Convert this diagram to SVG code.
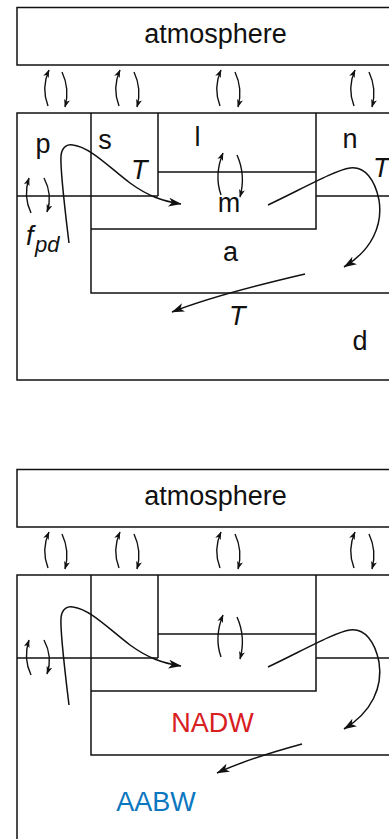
<svg xmlns="http://www.w3.org/2000/svg" width="389" height="839" viewBox="0 0 389 839">
<style>
.box{fill:none;stroke:#111;stroke-width:1.5}
.ln{fill:none;stroke:#111;stroke-width:1.5}
.ex{fill:none;stroke:#111;stroke-width:1.4;marker-end:url(#sm)}
.fl{fill:none;stroke:#111;stroke-width:1.5;marker-end:url(#bg)}
text{font-family:"Liberation Sans",Arial,sans-serif;font-size:27px;fill:#111}
.it{font-style:italic}
.nadw{fill:#d8201f}
.aabw{fill:#0b77c0}
</style>
<defs>
<marker id="sm" viewBox="0 0 8 6" refX="7.5" refY="3" markerWidth="8" markerHeight="6" markerUnits="userSpaceOnUse" orient="auto"><path d="M0,0 L8,3 L0,6 L2,3 z" fill="#111"/></marker>
<marker id="bg" viewBox="0 0 13 9" refX="12.5" refY="4.5" markerWidth="13" markerHeight="9" markerUnits="userSpaceOnUse" orient="auto"><path d="M0,0 L13,4.5 L0,9 L3.5,4.5 z" fill="#111"/></marker>
</defs>

<!-- TOP PANEL -->
<g id="top-atmosphere">
<rect class="box" x="17" y="7.5" width="400" height="57.5"/>
<text x="215.5" y="43" text-anchor="middle">atmosphere</text>
</g>
<g id="top-ocean">
<rect class="box" x="17" y="113" width="400" height="267"/>
</g>
<g id="top-p"><text x="43" y="153" text-anchor="middle">p</text>
<text class="it" x="26" y="245">f</text><text class="it" x="35" y="252" style="font-size:22px">pd</text></g>
<g id="top-s"><path class="ln" d="M91,113 V196 M17,196 H158 M158,113 V196"/><text x="105" y="149" text-anchor="middle">s</text><text class="it" x="131" y="179">T</text></g>
<g id="top-l"><path class="ln" d="M158,172 H316"/><text x="197.5" y="146" text-anchor="middle">l</text></g>
<g id="top-m"><path class="ln" d="M316,113 V229 H91"/><text x="229" y="212" text-anchor="middle">m</text></g>
<g id="top-n"><path class="ln" d="M316,196 H400"/><text x="350" y="148" text-anchor="middle">n</text><text class="it" x="373" y="177">T</text></g>
<g id="top-a"><path class="ln" d="M91,196 V293 H400"/><text x="230.5" y="261" text-anchor="middle">a</text></g>
<g id="top-d"><text x="360" y="350" text-anchor="middle">d</text><text class="it" x="229" y="325">T</text></g>

<g id="top-connectors">
<path class="ex" d="M48,106 Q41,88 49,70"/><path class="ex" d="M62,72 Q70,89 65,107"/>
<path class="ex" d="M119,106 Q112,88 120,70"/><path class="ex" d="M134,72 Q142,89 137,107"/>
<path class="ex" d="M220,106 Q213,88 221,70"/><path class="ex" d="M235,72 Q243,89 238,107"/>
<path class="ex" d="M354,106 Q347,88 355,70"/><path class="ex" d="M369,72 Q377,89 372,107"/>
<path class="ex" d="M221,195 Q214,175 223,153"/><path class="ex" d="M237,155 Q246,175 240,197"/>
<path class="ex" d="M31,213 Q23,196 29,178"/><path class="ex" d="M44,178 Q53,195 47,212"/>
<path class="fl" d="M69,243 C65,210 60,170 61,156 C62,146 68,144 73,145 C90,147 110,168 130,183 C148,196 162,201 181,204"/>
<path class="fl" d="M268,205 C300,190 335,170 350,168 C365,166 375,180 379,200 C383,225 372,250 344,267"/>
<path class="fl" d="M305,274 C275,281 215,295 172,312"/>
</g>

<!-- BOTTOM PANEL -->
<g id="bot-atmosphere" transform="translate(0,462)">
<rect class="box" x="17" y="7.5" width="400" height="57.5"/>
<text x="215.5" y="43" text-anchor="middle">atmosphere</text>
</g>
<g id="bot-ocean" transform="translate(0,462)">
<rect class="box" x="17" y="113" width="400" height="400"/>
</g>
<g id="bot-s" transform="translate(0,462)"><path class="ln" d="M91,113 V196 M17,196 H158 M158,113 V196"/></g>
<g id="bot-l" transform="translate(0,462)"><path class="ln" d="M158,172 H316"/></g>
<g id="bot-m" transform="translate(0,462)"><path class="ln" d="M316,113 V229 H91"/></g>
<g id="bot-n" transform="translate(0,462)"><path class="ln" d="M316,196 H400"/></g>
<g id="bot-nadw"><path class="ln" d="M91,658 V755 H400"/><text class="nadw" x="212.5" y="731.5" text-anchor="middle">NADW</text></g>
<g id="bot-aabw"><text class="aabw" x="156" y="810.5" text-anchor="middle">AABW</text></g>

<g id="bot-connectors">
<g transform="translate(0,462)">
<path class="ex" d="M48,106 Q41,88 49,70"/><path class="ex" d="M62,72 Q70,89 65,107"/>
<path class="ex" d="M119,106 Q112,88 120,70"/><path class="ex" d="M134,72 Q142,89 137,107"/>
<path class="ex" d="M220,106 Q213,88 221,70"/><path class="ex" d="M235,72 Q243,89 238,107"/>
<path class="ex" d="M354,106 Q347,88 355,70"/><path class="ex" d="M369,72 Q377,89 372,107"/>
<path class="ex" d="M221,195 Q214,175 223,153"/><path class="ex" d="M237,155 Q246,175 240,197"/>
<path class="ex" d="M31,213 Q23,196 29,178"/><path class="ex" d="M44,178 Q53,195 47,212"/>
<path class="fl" d="M69,243 C65,210 60,170 61,156 C62,146 68,144 73,145 C90,147 110,168 130,183 C148,196 162,201 181,204"/>
<path class="fl" d="M268,205 C300,190 335,170 350,168 C365,166 375,180 379,200 C383,225 372,250 344,267"/>
</g>
<path class="fl" d="M302,744 C280,750 245,760 217,773"/>
</g>
</svg>
